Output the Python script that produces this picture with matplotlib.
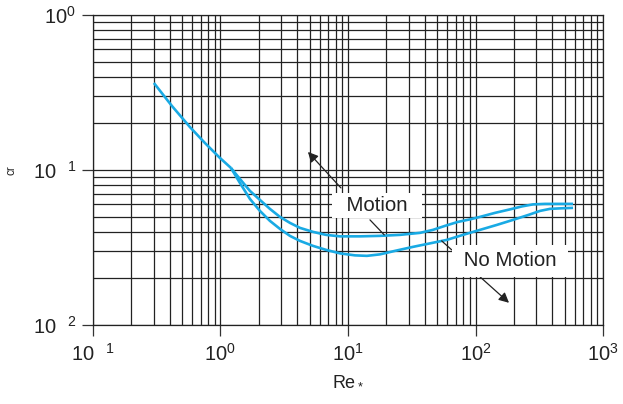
import matplotlib
matplotlib.use("Agg")
import matplotlib.pyplot as plt
from matplotlib.ticker import LogLocator, NullFormatter, FixedLocator

plt.rcParams['font.family'] = ['Liberation Sans', 'DejaVu Sans']
plt.rcParams['mathtext.fontset'] = 'custom'
plt.rcParams['mathtext.rm'] = 'Liberation Sans'
plt.rcParams['mathtext.it'] = 'Liberation Sans:italic'

# Critical Shields parameter vs particle Reynolds number
re_shared = [0.301, 0.4165, 0.577, 0.7556, 0.991, 1.209]
tau_shared = [0.364, 0.2588, 0.189, 0.1493, 0.1195, 0.1030]

re_motion = [1.209, 1.422, 1.704, 2.041, 2.444, 2.929, 3.509, 4.203, 5.316, 6.723,
             8.659, 12.42, 17.82, 25.57, 36.70, 46.42, 57.66, 72.91, 90.57, 108.5,
             142.2, 186.5, 231.6, 282.5, 351.0, 460.0, 581.8]
tau_motion = [0.1030, 0.08746, 0.07319, 0.06403, 0.05603, 0.04974, 0.04550, 0.04224,
              0.03981, 0.03807, 0.03724, 0.03724, 0.03751, 0.03807, 0.03922, 0.04101,
              0.04352, 0.04618, 0.04793, 0.04974, 0.05279, 0.05561, 0.05813, 0.05989,
              0.06033, 0.06033, 0.06033]

re_nomotion = [1.209, 1.422, 1.704, 2.041, 2.444, 2.929, 3.509, 4.203, 5.316, 6.723,
               8.659, 11.35, 14.09, 17.82, 23.37, 32.36, 43.97, 59.77, 79.80, 108.5,
               147.4, 196.9, 267.7, 320.6, 384.0, 460.0, 581.8]
tau_nomotion = [0.1030, 0.08241, 0.06498, 0.05437, 0.04688, 0.04162, 0.03751, 0.03481,
                0.03233, 0.03047, 0.02892, 0.02807, 0.02787, 0.02849, 0.03001, 0.03185,
                0.03355, 0.03535, 0.03807, 0.04101, 0.04417, 0.04757, 0.05162, 0.05437,
                0.05603, 0.05644, 0.05686]

x_ticks = [1e-1, 1e0, 1e1, 1e2, 1e3]
x_ticklabels = [r'$\mathregular{10^{\quad 1}}$', r'$\mathregular{10^{0}}$', r'$\mathregular{10^{1}}$',
                r'$\mathregular{10^{2}}$', r'$\mathregular{10^{3}}$']
y_ticks = [1e-2, 1e-1, 1e0]
y_ticklabels = [r'$\mathregular{10^{\quad 2}}$', r'$\mathregular{10^{\quad 1}}$', r'$\mathregular{10^{0}}$']

curve_color = '#19aae4'
ink = '#222222'

fig = plt.figure(figsize=(6.23, 4.04), dpi=100)
ax = fig.add_axes([0.149, 0.196, 0.819, 0.767])
ax.set_xscale('log')
ax.set_yscale('log')
ax.set_xlim(1e-1, 1e3)
ax.set_ylim(1e-2, 1e0)

ax.xaxis.set_major_locator(FixedLocator(x_ticks))
ax.yaxis.set_major_locator(FixedLocator(y_ticks))
ax.xaxis.set_minor_locator(LogLocator(base=10, subs=range(2, 10)))
ax.yaxis.set_minor_locator(LogLocator(base=10, subs=range(2, 10)))
ax.xaxis.set_minor_formatter(NullFormatter())
ax.yaxis.set_minor_formatter(NullFormatter())
ax.set_xticklabels(x_ticklabels)
ax.set_yticklabels(y_ticklabels)

ax.grid(True, which='both', color=ink, lw=0.9)
ax.set_axisbelow(True)
ax.tick_params(which='major', direction='out', length=8, width=0.9, color='#333333',
               labelsize=14.5, labelcolor=ink)
ax.tick_params(axis='y', pad=4)
ax.tick_params(axis='x', pad=5)
ax.tick_params(which='minor', length=0)
for s in ax.spines.values():
    s.set_color(ink)
    s.set_linewidth(0.9)

line_kw = dict(color=curve_color, lw=1.9, solid_joinstyle='round', solid_capstyle='butt')
ax.plot(re_shared, tau_shared, **line_kw)
ax.plot(re_motion, tau_motion, **line_kw)
ax.plot(re_nomotion, tau_nomotion, **line_kw)

ax.set_xlabel(r'Re$_*$', fontsize=13, color=ink)
ax.xaxis.set_label_coords(0.5, -0.152)
ax.set_ylabel('cr', fontsize=8.5, color=ink)
ax.yaxis.set_label_coords(-0.148, 0.5)

box = dict(boxstyle='square,pad=0.15', fc='white', ec='none')
arrow_kw = dict(arrowstyle='-|>', color=ink, lw=0.9, mutation_scale=15, shrinkA=0, shrinkB=0)
leader_kw = dict(arrowstyle='-', color=ink, lw=0.9, shrinkA=0, shrinkB=0)

# Motion label: leader to the upper curve, arrow into the region of motion
ax.annotate('', xy=(19.26, 0.03807), xytext=(14.88, 0.04757), arrowprops=leader_kw)
ax.annotate('', xy=(4.857, 0.1306), xytext=(8.81, 0.0765), arrowprops=arrow_kw)
ax.text(16.88, 0.05856, '  Motion  ', fontsize=14.8, ha='center', va='center',
        color=ink, bbox=box, zorder=5)

# No Motion label: leader to the lower curve, arrow into the region of rest
ax.annotate('', xy=(54.3, 0.03481), xytext=(65.06, 0.03047), arrowprops=leader_kw)
ax.annotate('', xy=(183.1, 0.01387), xytext=(108.5, 0.02040), arrowprops=arrow_kw)
ax.text(186.5, 0.02588, ' No Motion ', fontsize=14.8, ha='center', va='center',
        color=ink, bbox=dict(boxstyle='square,pad=0.3', fc='white', ec='none'), zorder=5)

fig.savefig('out.png', dpi=100)
